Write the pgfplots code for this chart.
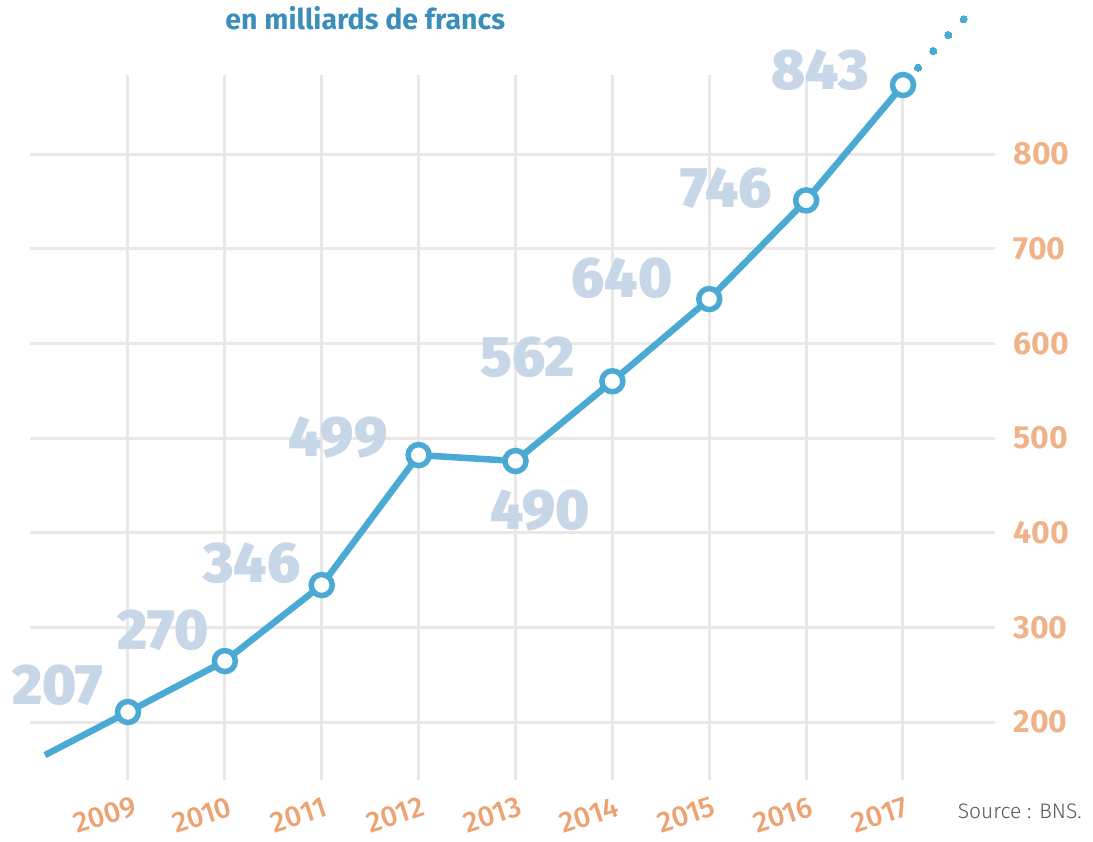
\documentclass[border=0pt]{standalone}
\usepackage{fontspec}
\setmainfont{Fira Sans}
\IfFontExistsTF{Fira Sans Black}{\newfontfamily\heavyfont{Fira Sans Black}}{%
  \IfFontExistsTF{Fira Sans ExtraBold}{\newfontfamily\heavyfont{Fira Sans ExtraBold}}{\newcommand\heavyfont{\bfseries}}}
\IfFontExistsTF{Fira Sans Medium}{\newfontfamily\medfont{Fira Sans Medium}}{\newcommand\medfont{}}
\IfFontExistsTF{Fira Sans Light}{\newfontfamily\lightfont{Fira Sans Light}}{\newcommand\lightfont{}}
\usepackage{pgfplots}
\usepackage{pgfplotstable}
\pgfplotsset{compat=1.18}
\definecolor{lineblue}{HTML}{4BAAD3}
\definecolor{labblue}{HTML}{C8D7E8}
\definecolor{tickorange}{HTML}{F0B389}
\definecolor{yearorange}{HTML}{EDA272}
\definecolor{titleblue}{HTML}{3A8FBA}
\definecolor{gridgray}{HTML}{E8E8E8}
\definecolor{srcgray}{HTML}{555555}

\pgfplotstableread{
x y
2008.143 165.1
2009 210.6
2010 264.4
2011 344.7
2012 482.0
2013 475.7
2014 560.0
2015 646.8
2016 751.0
2017 872.9
}\mainline

\pgfplotstableread{
x y
2009 210.6
2010 264.4
2011 344.7
2012 482.0
2013 475.7
2014 560.0
2015 646.8
2016 751.0
2017 872.9
}\points

\pgfplotstableread{
x y
2017.155 891.2
2017.313 908.8
2017.468 925.7
2017.626 942.3
}\dots

\pgfplotstableread{
x y lab
2008.277 239.1 207
2009.361 297.2 270
2010.280 368.0 346
2011.168 501.1 499
2013.253 423.9 490
2013.129 585.6 562
2014.099 669.0 640
2015.173 764.1 746
2016.143 888.7 843
}\labels

\begin{document}
\begin{tikzpicture}
\begin{axis}[
  scale only axis,
  width=965pt, height=705pt,
  xmin=2007.988, xmax=2017.95,
  ymin=138.7, ymax=883.5,
  clip=false,
  axis line style={draw=none},
  major tick length=0pt,
  xtick={2009,...,2017},
  xticklabels={2009,2010,2011,2012,2013,2014,2015,2016,2017},
  ytick={200,300,...,800},
  yticklabels={200,300,400,500,600,700,800},
  yticklabel pos=right,
  grid=major,
  major grid style={draw=gridgray, line width=3pt},
  yticklabel style={anchor=west, xshift=15pt, font=\fontsize{32}{32}\selectfont\bfseries, text=tickorange},
  xticklabel style={anchor=center, xshift=-23pt, yshift=-35pt, rotate=18, inner sep=0pt, font=\fontsize{29}{29}\selectfont\medfont, text=yearorange},
]
\path (axis cs:2007.679,74.3) rectangle (axis cs:2018.961,962.7);
\addplot[draw=lineblue, line width=6.5pt, line join=round, mark=none] table {\mainline};
\addplot[only marks, mark=*, mark size=10.5pt, mark options={draw=lineblue, fill=white, line width=5.5pt}] table {\points};
\addplot[only marks, color=lineblue, mark=*, mark size=3.6pt, mark options={draw=lineblue, fill=lineblue, line width=0pt}] table {\dots};
\addplot[draw=none, mark=none, nodes near coords, point meta=explicit symbolic,
  nodes near coords style={anchor=center, text=labblue, font=\fontsize{57}{57}\selectfont\heavyfont}]
  table[meta=lab] {\labels};
\node[anchor=west, text=titleblue, font=\fontsize{28.5}{28.5}\selectfont\bfseries] at (axis cs:2009.97,943.7) {en milliards de francs};
\node[anchor=west, text=srcgray, font=\fontsize{21}{21}\selectfont\lightfont] at (axis cs:2017.53,106.0) {Source : BNS.};
\end{axis}
\end{tikzpicture}
\end{document}
